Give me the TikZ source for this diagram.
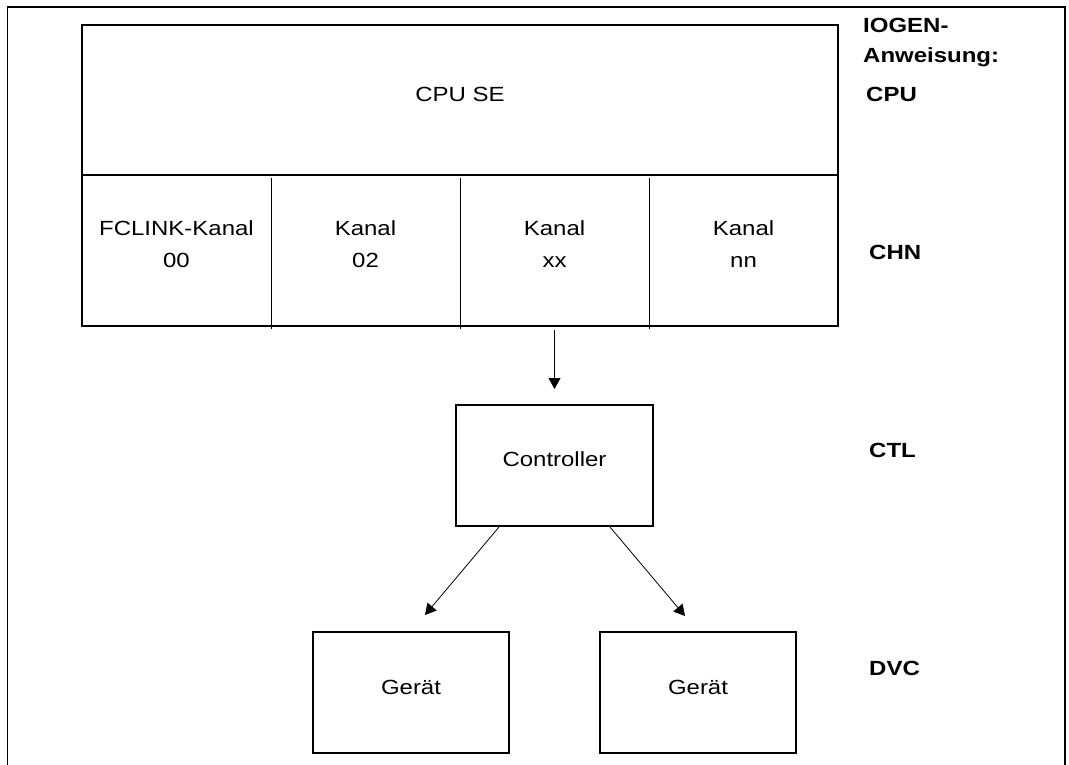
\documentclass[tikz,border=0pt]{standalone}
\usepackage{fontspec}
\setmainfont{Liberation Sans}[FakeStretch=1.17]
\usetikzlibrary{arrows.meta,calc}
\begin{document}
\begin{tikzpicture}[x=1pt,y=-1pt,
  font=\fontsize{20.5}{24}\selectfont,
  boxline/.style={line width=1.2pt},
  box/.style={draw,line width=1.2pt,rectangle,inner sep=0pt,outer sep=0pt,text height=15pt},
  cell/.style={rectangle,inner sep=0pt,outer sep=0pt,minimum width=189pt,minimum height=151pt},
  divider/.style={line width=0.9pt},
  celltext/.style={anchor=base,inner sep=0pt},
  stmt/.style={anchor=base west,inner sep=0pt,font=\fontsize{20.5}{24}\selectfont\bfseries},
  conn/.style={line width=0.8pt,-{Triangle[length=11pt,width=12pt]}}
]
\useasboundingbox (0,0) rectangle (1069,765);
% outer frame (open at the bottom)
\draw[boxline] (7.5,765) -- (7.5,7) -- (1065,7) -- (1065,765);

% CPU
\node[box,minimum width=756pt,minimum height=150pt,text depth=11pt] (cpu) at (460,100) {CPU SE};

% channels
\node[cell] (c1) at (176.5,250.5) {};
\node[cell] (c2) at (365.5,250.5) {};
\node[cell] (c3) at (554.5,250.5) {};
\node[cell] (c4) at (743.5,250.5) {};
\draw[boxline] (c1.north west) -- (c1.south west) -- (c4.south east) -- (c4.north east);
\draw[divider] ([yshift=-3pt]c1.north east) -- ([yshift=-3pt]c1.south east);
\draw[divider] ([yshift=-3pt]c2.north east) -- ([yshift=-3pt]c2.south east);
\draw[divider] ([yshift=-3pt]c3.north east) -- ([yshift=-3pt]c3.south east);

\node[celltext] (c1a) at (176.5,235) {FCLINK-Kanal};
\node[celltext] (c1b) at (176.5,267) {00};
\node[celltext] (c2a) at (365.5,235) {Kanal};
\node[celltext] (c2b) at (365.5,267) {02};
\node[celltext] (c3a) at (554.5,235) {Kanal};
\node[celltext] (c3b) at (554.5,267) {xx};
\node[celltext] (c4a) at (743.5,235) {Kanal};
\node[celltext] (c4b) at (743.5,267) {nn};

% controller and devices
\node[box,minimum width=197pt,minimum height=121pt,text depth=13pt] (ctl) at (554.5,465.5) {Controller};
\node[box,minimum width=196pt,minimum height=121pt,text depth=12pt] (dev1) at (411,692.5) {Gerät};
\node[box,minimum width=196pt,minimum height=121pt,text depth=12pt] (dev2) at (698,692.5) {Gerät};

% connectors
\draw[conn,shorten <=4pt,shorten >=16pt] (c3.south) -- (ctl.north);
\path (ctl.south) ++(-55.5,1) coordinate (s1);
\path (ctl.south) ++(55.5,1) coordinate (s2);
\path (dev1.north) ++(14,-17) coordinate (t1);
\path (dev2.north) ++(-13,-16) coordinate (t2);
\draw[conn] (s1) -- (t1);
\draw[conn] (s2) -- (t2);

% IOGEN statements
\node[stmt] (h1) at (863,33) {IOGEN-};
\node[stmt] (h2) at (863,63) {Anweisung:};
\node[stmt] (lcpu) at (866,102) {CPU};
\node[stmt] (lchn) at (869,259) {CHN};
\node[stmt] (lctl) at (869,457) {CTL};
\node[stmt] (ldvc) at (869,675) {DVC};
\end{tikzpicture}
\end{document}
